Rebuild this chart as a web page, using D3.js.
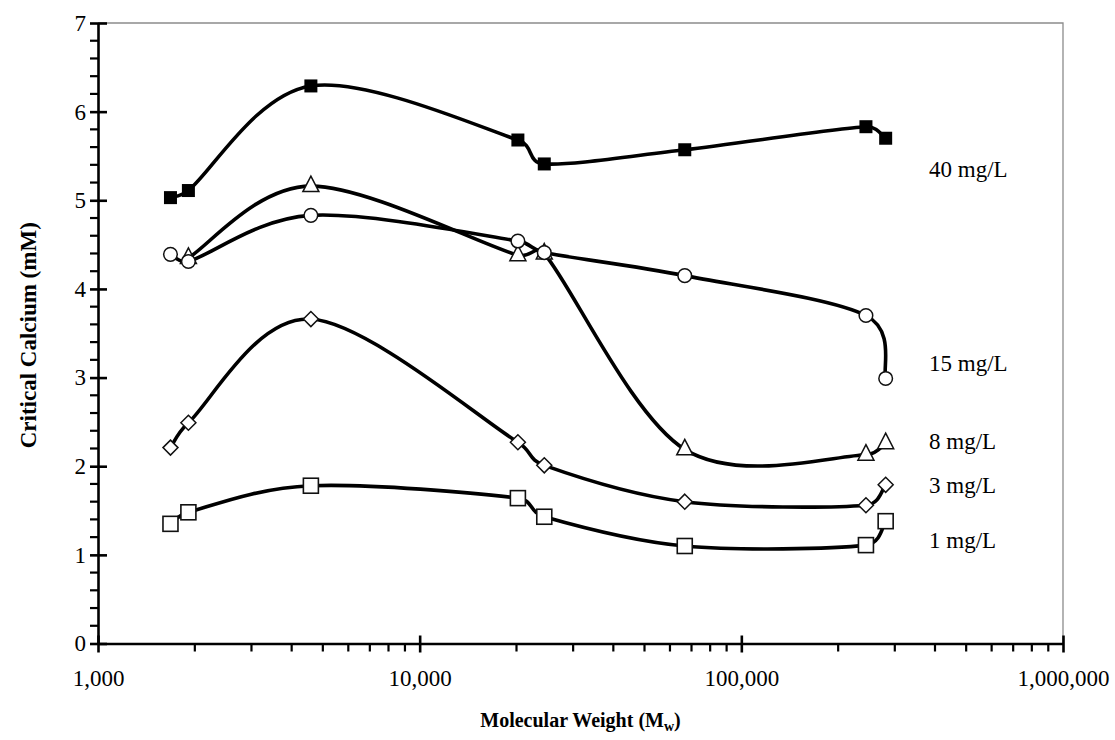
<!DOCTYPE html>
<html>
<head>
<meta charset="utf-8">
<script src="https://cdn.jsdelivr.net/npm/d3@7"></script>
<style>
    html, body { margin: 0; padding: 0; background: #fff; }
    svg { display: block; font-family: "Liberation Serif", "Times New Roman", serif; }
    .tick-label { font-size: 23px; fill: #000; }
    .axis-title { font-size: 20px; font-weight: bold; fill: #000; }
    .axis-title--y { font-size: 23px; }
    .series-label { font-size: 23px; fill: #000; }
</style>
</head>
<body>
<div id="chart"></div>
<script>
// Critical calcium vs molecular weight, one smoothed line per
// concentration.

const MW = [1680, 1910, 4590, 20200, 24400, 66700, 244000, 281000];

const CA_40 = [5.03, 5.11, 6.29, 5.68, 5.41, 5.57, 5.83, 5.70];
const CA_15 = [4.39, 4.31, 4.83, 4.54, 4.41, 4.15, 3.70, 2.99];
const CA_8  = [null, 4.35, 5.16, 4.38, 4.40, 2.19, 2.13, 2.26];
const CA_3  = [2.21, 2.49, 3.66, 2.27, 2.01, 1.60, 1.56, 1.79];
const CA_1  = [1.35, 1.48, 1.78, 1.64, 1.43, 1.10, 1.11, 1.38];

const SERIES_LABELS = ["1 mg/L", "3 mg/L", "8 mg/L", "15 mg/L", "40 mg/L"];
const SERIES_VALUES = [CA_1, CA_3, CA_8, CA_15, CA_40];
const SERIES_MARKERS = ["openSquare", "diamond", "triangle", "circle", "filledSquare"];
// where each label sits, in data units on the y axis
const LABEL_Y = [1.17, 1.79, 2.29, 3.17, 5.35];

const X_TICKS = [1000, 10000, 100000, 1000000];
const Y_TICKS = [0, 1, 2, 3, 4, 5, 6, 7];

const WIDTH = 1115;
const HEIGHT = 740;
const PLOT = { left: 98, right: 1063, top: 23, bottom: 643.5 };

const svg = d3.select("#chart")
    .append("svg")
    .attr("width", WIDTH)
    .attr("height", HEIGHT);

const x = d3.scaleLog()
    .domain([1000, 1000000])
    .range([PLOT.left, PLOT.right]);

const y = d3.scaleLinear()
    .domain([0, 7])
    .range([PLOT.bottom, PLOT.top]);

// Plot area border (thin grey, top and right)
svg.append("path")
    .attr("d", `M${PLOT.left},${PLOT.top}H${PLOT.right}V${PLOT.bottom}`)
    .attr("fill", "none")
    .attr("stroke", "#8c8c8c")
    .attr("stroke-width", 1.3);

// Minor ticks
const yMinor = d3.range(0, 7.001, 0.2).filter((v) => Math.abs(v - Math.round(v)) > 0.01);
svg.append("g")
    .selectAll("line")
    .data(yMinor)
    .join("line")
    .attr("x1", PLOT.left - 8).attr("x2", PLOT.left)
    .attr("y1", (d) => y(d)).attr("y2", (d) => y(d))
    .attr("stroke", "#000").attr("stroke-width", 2.2);

const xMinor = [];
for (const dec of [1000, 10000, 100000]) {
    for (let k = 2; k <= 9; k++) xMinor.push(dec * k);
}
svg.append("g")
    .selectAll("line")
    .data(xMinor)
    .join("line")
    .attr("x1", (d) => x(d)).attr("x2", (d) => x(d))
    .attr("y1", PLOT.bottom).attr("y2", PLOT.bottom + 8)
    .attr("stroke", "#000").attr("stroke-width", 2.2);

// Axes: major ticks cross the axis line
const yAxis = svg.append("g")
    .attr("transform", `translate(${PLOT.left},0)`)
    .call(d3.axisLeft(y).tickValues(Y_TICKS).tickSize(0).tickPadding(12).tickFormat(d3.format("d")));
yAxis.select(".domain").attr("stroke", "#000").attr("stroke-width", 2.6);
yAxis.selectAll(".tick line")
    .attr("x1", -8).attr("x2", 9)
    .attr("stroke", "#000").attr("stroke-width", 2.6);
yAxis.selectAll(".tick text")
    .attr("class", "tick-label");

const xAxis = svg.append("g")
    .attr("transform", `translate(0,${PLOT.bottom})`)
    .call(d3.axisBottom(x).tickValues(X_TICKS).tickSize(0).tickPadding(26).tickFormat(d3.format(",")));
xAxis.select(".domain").attr("stroke", "#000").attr("stroke-width", 2.6);
xAxis.selectAll(".tick line")
    .attr("y1", -8).attr("y2", 9)
    .attr("stroke", "#000").attr("stroke-width", 2.6);
xAxis.selectAll(".tick text")
    .attr("class", "tick-label");
xAxis.attr("font-family", null).attr("font-size", null);
yAxis.attr("font-family", null).attr("font-size", null);

// Axis titles
const xTitle = svg.append("text")
    .attr("class", "axis-title")
    .attr("x", (PLOT.left + PLOT.right) / 2)
    .attr("y", 727)
    .attr("text-anchor", "middle");
xTitle.append("tspan").text("Molecular Weight (M");
xTitle.append("tspan").attr("baseline-shift", "-25%").attr("font-size", "14px").text("w");
xTitle.append("tspan").text(")");

svg.append("text")
    .attr("class", "axis-title axis-title--y")
    .attr("transform", `translate(36,${(PLOT.top + PLOT.bottom) / 2 + 2}) rotate(-90)`)
    .attr("text-anchor", "middle")
    .text("Critical Calcium (mM)");

// Excel-style smoothed line: cubic Bezier with tangents of (next - prev) / 6,
// capped at half the segment length so short segments do not overshoot.
function smoothPath(pts) {
    const p = d3.path();
    const n = pts.length;
    p.moveTo(pts[0][0], pts[0][1]);
    for (let i = 0; i < n - 1; i++) {
        const p0 = pts[Math.max(0, i - 1)];
        const p1 = pts[i];
        const p2 = pts[i + 1];
        const p3 = pts[Math.min(n - 1, i + 2)];
        const seg = Math.hypot(p2[0] - p1[0], p2[1] - p1[1]);
        const t1 = [p2[0] - p0[0], p2[1] - p0[1]];
        const t2 = [p3[0] - p1[0], p3[1] - p1[1]];
        const l1 = Math.hypot(t1[0], t1[1]) || 1;
        const l2 = Math.hypot(t2[0], t2[1]) || 1;
        const f1 = Math.min(1 / 6, seg / (2 * l1));
        const f2 = Math.min(1 / 6, seg / (2 * l2));
        p.bezierCurveTo(
            p1[0] + t1[0] * f1, p1[1] + t1[1] * f1,
            p2[0] - t2[0] * f2, p2[1] - t2[1] * f2,
            p2[0], p2[1],
        );
    }
    return p.toString();
}

function drawMarker(sel, type) {
    if (type === "filledSquare") {
        sel.append("rect").attr("x", -6.5).attr("y", -6.5).attr("width", 13).attr("height", 13)
            .attr("fill", "#000");
    } else if (type === "openSquare") {
        sel.append("rect").attr("x", -7.5).attr("y", -7.5).attr("width", 15).attr("height", 15)
            .attr("fill", "#fff").attr("stroke", "#111").attr("stroke-width", 1.6);
    } else if (type === "circle") {
        sel.append("circle").attr("r", 6.8)
            .attr("fill", "#fff").attr("stroke", "#111").attr("stroke-width", 1.5);
    } else if (type === "triangle") {
        sel.append("path").attr("d", "M0,-10L8,5.5H-8Z")
            .attr("fill", "#fff").attr("stroke", "#111").attr("stroke-width", 1.5);
    } else if (type === "diamond") {
        sel.append("path").attr("d", "M0,-7.5L7.5,0L0,7.5L-7.5,0Z")
            .attr("fill", "#fff").attr("stroke", "#111").attr("stroke-width", 1.5);
    }
}

SERIES_VALUES.forEach((vals, i) => {
    const pts = MW.map((mw, j) => ({ mw, v: vals[j] })).filter((d) => d.v != null);
    const g = svg.append("g");
    g.append("path")
        .attr("d", smoothPath(pts.map((d) => [x(d.mw), y(d.v)])))
        .attr("fill", "none")
        .attr("stroke", "#000")
        .attr("stroke-width", 3.6);
    g.selectAll("g.mk")
        .data(pts)
        .join("g")
        .attr("class", "mk")
        .attr("transform", (d) => `translate(${x(d.mw)},${y(d.v)})`)
        .each(function () { drawMarker(d3.select(this), SERIES_MARKERS[i]); });

    svg.append("text")
        .attr("class", "series-label")
        .attr("x", 929)
        .attr("y", y(LABEL_Y[i]))
        .attr("dy", "0.35em")
        .text(SERIES_LABELS[i]);
});
</script>
</body>
</html>
